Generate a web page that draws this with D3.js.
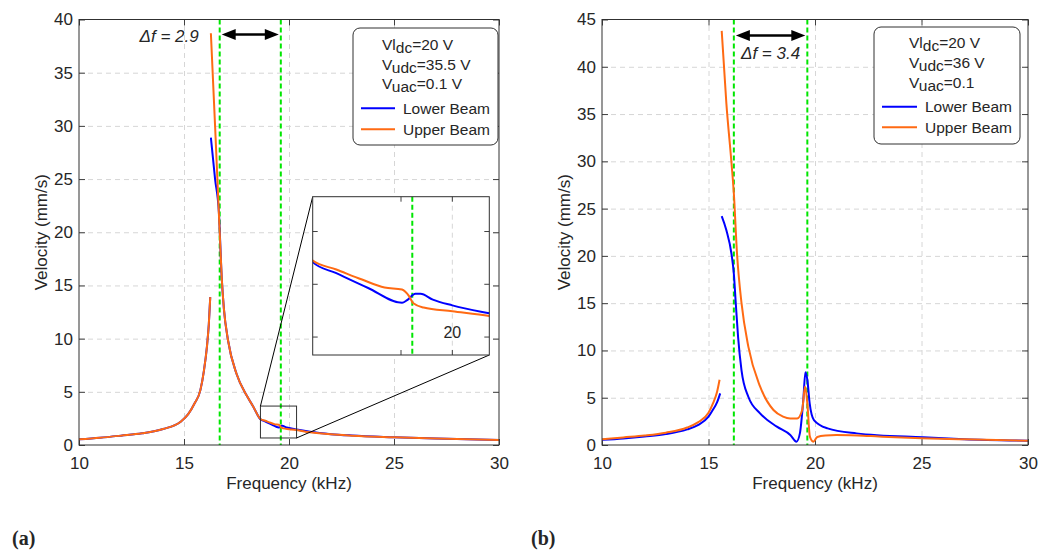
<!DOCTYPE html>
<html>
<head>
<meta charset="utf-8">
<script src="https://cdn.jsdelivr.net/npm/d3@7"></script>
<style>
body { margin: 0; background: #fff; }
text { font-family: "Liberation Sans", Arial, sans-serif; fill: #262626; }
</style>
</head>
<body>
<div id="root"></div>
<script>
const width = 1052;
const height = 552;

// tick values
const xTicks = [10, 15, 20, 25, 30];
const aYTicks = [0, 5, 10, 15, 20, 25, 30, 35, 40];
const bYTicks = [0, 5, 10, 15, 20, 25, 30, 35, 40, 45];

// panel (a) : frequency (kHz) / velocity (mm/s), null = jump in the sweep
const aLowerF = [10, 11, 12, 13, 14, 14.84, 15.2, 15.5, 15.78, 15.95, 16.09, 16.18, 16.25, null,
    16.28, 16.48, 16.66, 16.8, 16.9, 17.1, 17.5, 18.0, 18.3, 18.64, 18.87, 19.18, 19.51, 19.56,
    19.64, 19.69, 19.81, 20.0, 20.36, 21, 22, 23, 25, 27, 30];
const aLowerV = [0.53, 0.68, 0.88, 1.1, 1.5, 2.19, 2.9, 3.9, 5.16, 7.0, 9.2, 11.3, 13.9, null,
    28.9, 25, 21.9, 15.6, 12.8, 9.8, 6.7, 4.6, 3.6, 2.42, 2.21, 1.93, 1.65, 1.70,
    1.82, 1.82, 1.71, 1.60, 1.45, 1.24, 1.02, 0.89, 0.73, 0.6, 0.47];
const aUpperF = [10, 11, 12, 13, 14, 14.84, 15.2, 15.5, 15.78, 15.95, 16.09, 16.18, 16.25, null,
    16.28, 16.48, 16.6, 16.7, 16.8, 16.9, 17.1, 17.5, 18.0, 18.3, 18.64, 18.87, 19.12, 19.34,
    19.51, 19.58, 19.62, 19.72, 20.0, 20.36, 21, 22, 23, 25, 27, 30];
const aUpperV = [0.53, 0.68, 0.88, 1.1, 1.5, 2.19, 2.9, 3.9, 5.16, 7.0, 9.2, 11.3, 13.9, null,
    38.7, 30, 24.5, 20, 15.6, 12.8, 9.8, 6.7, 4.6, 3.6, 2.45, 2.28, 2.09, 1.94,
    1.90, 1.77, 1.64, 1.56, 1.49, 1.40, 1.2, 1.0, 0.88, 0.72, 0.6, 0.47];

// panel (b)
const bLowerF = [10, 11, 12, 13, 14, 14.5, 15, 15.2, 15.4, 15.55, null,
    15.62, 15.84, 16.08, 16.19, 16.28, 16.39, 16.55, 16.87, 17.42, 18.21, 18.84, 19.13, 19.29,
    19.45, 19.55, 19.64, 19.75, 19.95, 20.59, 21.95, 25.08, 27, 30];
const bLowerV = [0.55, 0.7, 0.9, 1.15, 1.65, 2.1, 3.0, 3.7, 4.5, 5.46, null,
    24.2, 22.7, 20.2, 18.1, 15.0, 11.4, 7.9, 5.1, 3.35, 1.94, 1.06, 0.35, 1.23,
    4.75, 7.7, 6.9, 4.4, 2.64, 1.76, 1.23, 0.81, 0.62, 0.46];
const bUpperF = [10, 11, 12, 13, 14, 14.5, 15, 15.21, 15.4, 15.52, null,
    15.62, 15.84, 16.08, 16.19, 16.34, 16.55, 16.87, 17.42, 18.05, 18.5, 18.84, 19.16, 19.4,
    19.53, 19.64, 19.76, 19.92, 20.11, 20.5, 21, 22, 23, 25, 27, 30];
const bUpperV = [0.6, 0.8, 1.0, 1.3, 1.85, 2.4, 3.4, 4.4, 5.6, 6.9, null,
    43.8, 36.1, 29.8, 26.6, 20.2, 15.0, 10.4, 6.2, 3.7, 3.0, 2.8, 2.8, 3.7,
    6.2, 4.4, 0.88, 0.35, 0.85, 1.0, 1.05, 1.0, 0.9, 0.72, 0.6, 0.46];

// resonance markers (green lines) and labels
const aPeaks = [16.7, 19.61];
const bPeaks = [16.19, 19.64];
const aDelta = 'Δf = 2.9';
const bDelta = 'Δf = 3.4';
const seriesNames = ['Lower Beam', 'Upper Beam'];
const aParams = [['Vl', 'dc', '=20 V'], ['V', 'udc', '=35.5 V'], ['V', 'uac', '=0.1 V']];
const bParams = [['Vl', 'dc', '=20 V'], ['V', 'udc', '=36 V'], ['V', 'uac', '=0.1']];

// inset of panel (a)
const insetX = [18.64, 20.36];
const insetY = [0.66, 3.66];
const insetYTicks = [1, 2, 3];
const insetXTicks = [19.5, 20];

const colors = ['#0000ff', '#ff6a13'];
const green = '#00e600';
const TOP = 19.5, BOTTOM = 445;

const zip = (f, v) => f.map((d, i) => [d, v[i]]);

const svg = d3.select('#root')
    .append('svg')
    .attr('width', width)
    .attr('height', height);

function styleGrid(sel) {
    sel.select('.domain').remove();
    sel.selectAll('line').attr('stroke', '#d6d6d6').attr('stroke-dasharray', '5,4');
}

function drawPanel(p) {
    const g = svg.append('g');
    const x = d3.scaleLinear().domain([10, 30]).range([p.x0, p.x1]);
    const y = d3.scaleLinear().domain([0, p.yTicks[p.yTicks.length - 1]]).range([BOTTOM, TOP]);
    const w = p.x1 - p.x0, h = BOTTOM - TOP;

    g.append('clipPath').attr('id', p.id)
        .append('rect').attr('x', p.x0).attr('y', TOP).attr('width', w).attr('height', h);

    // grid
    g.append('g').attr('transform', `translate(0,${BOTTOM})`)
        .call(d3.axisBottom(x).tickValues(xTicks.slice(1, -1)).tickSize(-h).tickFormat(''))
        .call(styleGrid);
    g.append('g').attr('transform', `translate(${p.x0},0)`)
        .call(d3.axisLeft(y).tickValues(p.yTicks.slice(1, -1)).tickSize(-w).tickFormat(''))
        .call(styleGrid);

    // axes with inward ticks
    const xa = g.append('g').attr('transform', `translate(0,${BOTTOM})`)
        .call(d3.axisBottom(x).tickValues(xTicks).tickSize(-6).tickPadding(12));
    const ya = g.append('g').attr('transform', `translate(${p.x0},0)`)
        .call(d3.axisLeft(y).tickValues(p.yTicks).tickSize(-6).tickPadding(6));
    g.append('g').attr('transform', `translate(0,${TOP})`)
        .call(d3.axisTop(x).tickValues(xTicks).tickSize(-6).tickFormat(''));
    g.append('g').attr('transform', `translate(${p.x1},0)`)
        .call(d3.axisRight(y).tickValues(p.yTicks).tickSize(-6).tickFormat(''));
    g.selectAll('.domain').remove();
    g.selectAll('.tick line').filter(function () { return d3.select(this).attr('stroke-dasharray') === null; })
        .attr('stroke', '#404040');
    [xa, ya].forEach(a => a.selectAll('text')
        .style('font-family', '"Liberation Sans", Arial, sans-serif')
        .style('font-size', '17px').attr('fill', '#262626'));

    // green dashed lines
    g.selectAll('.peak').data(p.peaks).join('line')
        .attr('class', 'peak')
        .attr('x1', d => x(d)).attr('x2', d => x(d))
        .attr('y1', TOP).attr('y2', BOTTOM)
        .attr('stroke', green).attr('stroke-width', 2).attr('stroke-dasharray', '5,3');

    // curves
    const line = d3.line()
        .defined(d => d[1] !== null)
        .x(d => x(d[0])).y(d => y(d[1]))
        .curve(d3.curveMonotoneX);
    g.append('g').attr('clip-path', `url(#${p.id})`)
        .selectAll('path').data(p.series).join('path')
        .attr('d', d => line(d))
        .attr('fill', 'none')
        .attr('stroke', (d, i) => colors[i])
        .attr('stroke-width', 2);

    // box
    g.append('rect').attr('x', p.x0).attr('y', TOP).attr('width', w).attr('height', h)
        .attr('fill', 'none').attr('stroke', '#303030').attr('stroke-width', 1);

    // double arrow between the resonances
    const ax0 = x(p.peaks[0]) + 2, ax1 = x(p.peaks[1]) - 2, ay = y(p.arrowY);
    g.append('line').attr('x1', ax0 + 10).attr('x2', ax1 - 10).attr('y1', ay).attr('y2', ay)
        .attr('stroke', '#000').attr('stroke-width', 2.5);
    g.append('path').attr('d', `M${ax0},${ay}L${ax0 + 14},${ay - 5.5}L${ax0 + 14},${ay + 5.5}Z`);
    g.append('path').attr('d', `M${ax1},${ay}L${ax1 - 14},${ay - 5.5}L${ax1 - 14},${ay + 5.5}Z`);
    g.append('text')
        .attr('x', p.deltaX(x)).attr('y', y(p.deltaY))
        .attr('text-anchor', p.deltaAnchor)
        .style('font-size', '17px').style('font-style', 'italic').attr('fill', '#111')
        .text(p.delta);

    // axis titles
    g.append('text')
        .attr('x', (p.x0 + p.x1) / 2).attr('y', 489)
        .attr('text-anchor', 'middle').style('font-size', '17px')
        .text('Frequency (kHz)');
    g.append('text')
        .attr('transform', `translate(${p.yLabelX},${(TOP + BOTTOM) / 2}) rotate(-90)`)
        .attr('text-anchor', 'middle').style('font-size', '17px')
        .text('Velocity (mm/s)');

    // legend
    const L = p.legend;
    const lg = g.append('g');
    lg.append('rect').attr('x', L.x).attr('y', L.y).attr('width', L.w).attr('height', L.h)
        .attr('rx', 7).attr('fill', '#fff').attr('stroke', '#303030');
    p.params.forEach((row, i) => {
        const t = lg.append('text').attr('x', L.tx).attr('y', L.rows[i]).style('font-size', '15.5px');
        t.append('tspan').text(row[0]);
        t.append('tspan').attr('dy', 3).text(row[1]);
        t.append('tspan').attr('dy', -3).text(row[2]);
    });
    seriesNames.forEach((name, i) => {
        lg.append('line').attr('x1', L.sx0).attr('x2', L.sx1)
            .attr('y1', L.items[i]).attr('y2', L.items[i])
            .attr('stroke', colors[i]).attr('stroke-width', 2);
        lg.append('text').attr('x', L.sx1 + 8).attr('y', L.items[i] + 5.5)
            .style('font-size', '15.5px').text(name);
    });

    return {g, x, y};
}

const A = drawPanel({
    id: 'clipA', x0: 79, x1: 499, yTicks: aYTicks,
    series: [zip(aLowerF, aLowerV), zip(aUpperF, aUpperV)],
    peaks: aPeaks, arrowY: 38.6, delta: aDelta, deltaY: 37.9, deltaAnchor: 'end',
    deltaX: x => x(aPeaks[0]) - 21,
    yLabelX: 47, params: aParams,
    legend: {x: 353, y: 28, w: 145, h: 117, tx: 382, rows: [50, 70, 89], sx0: 361, sx1: 395, items: [108.3, 129.3]}
});

drawPanel({
    id: 'clipB', x0: 602, x1: 1028, yTicks: bYTicks,
    series: [zip(bLowerF, bLowerV), zip(bUpperF, bUpperV)],
    peaks: bPeaks, arrowY: 43.3, delta: bDelta, deltaY: 40.8, deltaAnchor: 'middle',
    deltaX: x => (x(bPeaks[0]) + x(bPeaks[1])) / 2,
    yLabelX: 570, params: bParams,
    legend: {x: 874, y: 27, w: 146, h: 117, tx: 909, rows: [48, 68, 88], sx0: 882, sx1: 917, items: [106.7, 127.3]}
});

// inset zoom of panel (a)
(function () {
    const {g, x, y} = A;
    const box = {x0: 312.7, x1: 489.3, y0: 196.7, y1: 355};
    const xi = d3.scaleLinear().domain(insetX).range([box.x0, box.x1]);
    const yi = d3.scaleLinear().domain(insetY).range([box.y1, box.y0]);

    // marked region in the main plot and the connectors
    g.append('rect')
        .attr('x', x(insetX[0])).attr('y', y(insetY[1]))
        .attr('width', x(insetX[1]) - x(insetX[0])).attr('height', y(insetY[0]) - y(insetY[1]))
        .attr('fill', 'none').attr('stroke', '#303030');
    g.append('line').attr('x1', x(insetX[0])).attr('y1', y(insetY[1]))
        .attr('x2', box.x0).attr('y2', box.y0).attr('stroke', '#000');
    g.append('line').attr('x1', x(insetX[1])).attr('y1', y(insetY[0]))
        .attr('x2', box.x1).attr('y2', box.y1).attr('stroke', '#000');

    const ig = g.append('g');
    ig.append('clipPath').attr('id', 'clipInset')
        .append('rect').attr('x', box.x0).attr('y', box.y0)
        .attr('width', box.x1 - box.x0).attr('height', box.y1 - box.y0);
    ig.append('rect').attr('x', box.x0).attr('y', box.y0)
        .attr('width', box.x1 - box.x0).attr('height', box.y1 - box.y0).attr('fill', '#fff');

    ig.append('line').attr('x1', xi(20)).attr('x2', xi(20)).attr('y1', box.y0).attr('y2', box.y1)
        .attr('stroke', '#d6d6d6').attr('stroke-dasharray', '5,4');
    ig.append('line').attr('x1', xi(aPeaks[1])).attr('x2', xi(aPeaks[1]))
        .attr('y1', box.y0).attr('y2', box.y1)
        .attr('stroke', green).attr('stroke-width', 2).attr('stroke-dasharray', '5,3');

    const line = d3.line()
        .defined(d => d[1] !== null)
        .x(d => xi(d[0])).y(d => yi(d[1]))
        .curve(d3.curveMonotoneX);
    ig.append('g').attr('clip-path', 'url(#clipInset)')
        .selectAll('path').data([zip(aLowerF, aLowerV), zip(aUpperF, aUpperV)]).join('path')
        .attr('d', d => line(d))
        .attr('fill', 'none')
        .attr('stroke', (d, i) => colors[i])
        .attr('stroke-width', 2);

    // inward ticks
    const tk = ig.append('g').attr('stroke', '#404040');
    insetYTicks.forEach(v => {
        tk.append('line').attr('x1', box.x0).attr('x2', box.x0 + 5).attr('y1', yi(v)).attr('y2', yi(v));
        tk.append('line').attr('x1', box.x1).attr('x2', box.x1 - 5).attr('y1', yi(v)).attr('y2', yi(v));
    });
    insetXTicks.forEach(v => {
        tk.append('line').attr('x1', xi(v)).attr('x2', xi(v)).attr('y1', box.y1).attr('y2', box.y1 - 5);
        tk.append('line').attr('x1', xi(v)).attr('x2', xi(v)).attr('y1', box.y0).attr('y2', box.y0 + 5);
    });
    ig.append('text').attr('x', xi(20)).attr('y', 338)
        .attr('text-anchor', 'middle').style('font-size', '16px').text('20');

    ig.append('rect').attr('x', box.x0).attr('y', box.y0)
        .attr('width', box.x1 - box.x0).attr('height', box.y1 - box.y0)
        .attr('fill', 'none').attr('stroke', '#303030');
})();

// sub-figure captions
svg.append('text').attr('x', 12).attr('y', 545)
    .style('font-family', '"Liberation Serif", "DejaVu Serif", serif')
    .style('font-weight', 'bold').style('font-size', '20px').attr('fill', '#000')
    .text('(a)');
svg.append('text').attr('x', 531).attr('y', 545)
    .style('font-family', '"Liberation Serif", "DejaVu Serif", serif')
    .style('font-weight', 'bold').style('font-size', '20px').attr('fill', '#000')
    .text('(b)');
</script>
</body>
</html>
